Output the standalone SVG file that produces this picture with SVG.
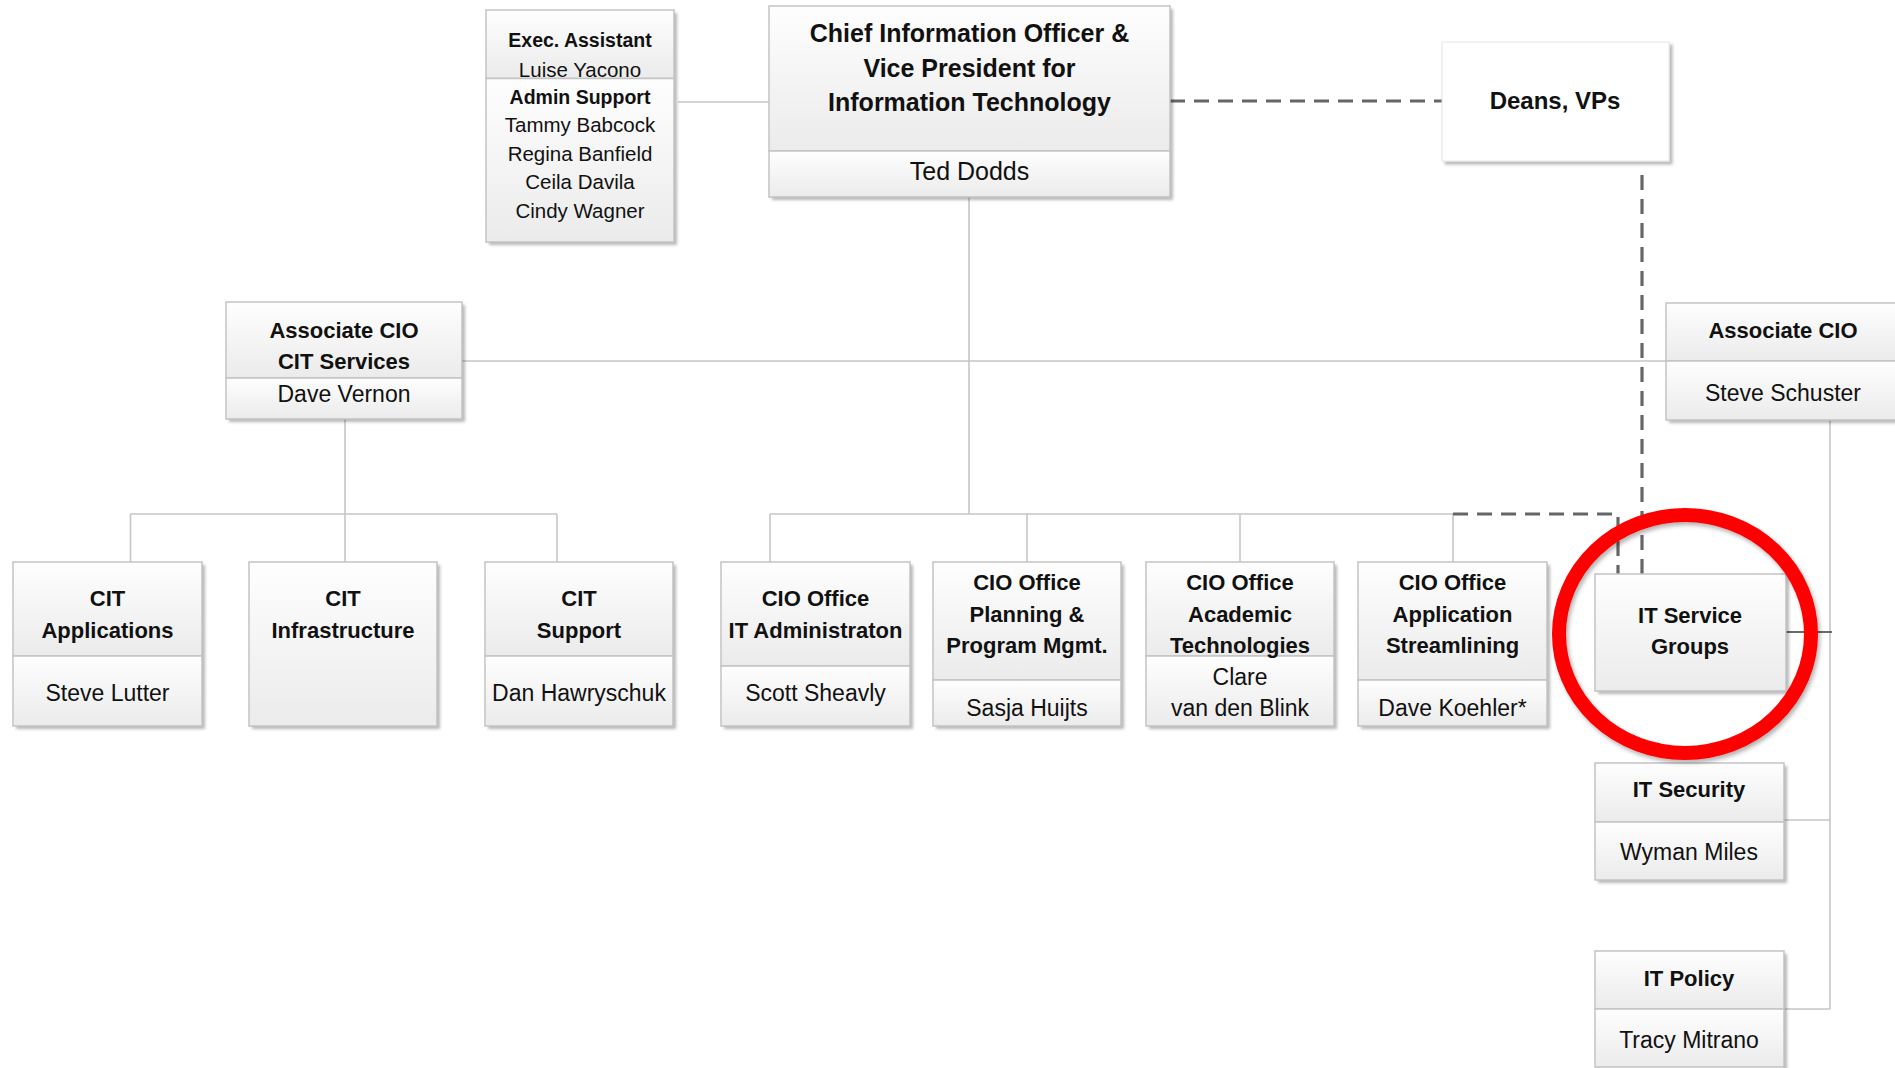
<svg xmlns="http://www.w3.org/2000/svg" width="1895" height="1068" viewBox="0 0 1895 1068">
<defs>
<linearGradient id="g" x1="0" y1="0" x2="0" y2="1">
<stop offset="0" stop-color="#fefefe"/>
<stop offset="1" stop-color="#ebebeb"/>
</linearGradient>
<filter id="sh" x="-10%" y="-10%" width="125%" height="130%">
<feDropShadow dx="3" dy="3" stdDeviation="1.6" flood-color="#000" flood-opacity="0.28"/>
</filter>
<filter id="rsh" x="-10%" y="-10%" width="125%" height="125%">
<feDropShadow dx="2" dy="3" stdDeviation="2" flood-color="#000" flood-opacity="0.3"/>
</filter>
</defs>
<style>
.box{fill:url(#g);stroke:#c3c3c3;stroke-width:1.5}
.bg{fill:#f4f4f4;filter:url(#sh)}
.ln{fill:none;stroke:#c6c6c6;stroke-width:1.6}
.dk{fill:none;stroke:#6a6a6a;stroke-width:2}
.ds{fill:none;stroke:#666666;stroke-width:3.2;stroke-dasharray:15 9}
text{font-family:"Liberation Sans",Arial,sans-serif;fill:#111;text-anchor:middle;dominant-baseline:central}
.b{font-weight:bold;font-size:22px}
.r{font-size:23px}
.eb{font-weight:bold;font-size:19.5px}
.er{font-size:20.5px}
.tb{font-weight:bold;font-size:25px}
.tr{font-size:25px}
</style>
<rect width="1895" height="1068" fill="#ffffff"/>

<g id="connectors">
<path class="ln" d="M678 102H769"/>
<path class="ln" d="M969 197V514"/>
<path class="ln" d="M462 361H1666"/>
<path class="ln" d="M345 419V514"/>
<path class="ln" d="M130.5 514H557M130.5 514V562M345 514V562M557 514V562"/>
<path class="ln" d="M770 514H1453M770 514V562M1027 514V562M1240 514V562M1453 514V562"/>
<path class="ds" d="M1170 101H1442"/>
<path class="ds" d="M1642 175V574"/>
<path class="ds" d="M1453 514H1618V574"/>
<path class="ln" d="M1830 420V1009"/>
<path class="dk" d="M1786 632H1832"/>
<path class="ln" d="M1784 820H1830"/>
<path class="ln" d="M1784 1009H1830"/>
</g>

<g id="exec-assistant">
<rect class="bg" x="486" y="10" width="188" height="232"/>
<rect class="box" x="486" y="10" width="188" height="68.5"/>
<rect class="box" x="486" y="78.5" width="188" height="163.5"/>
<text class="eb" x="580" y="40">Exec. Assistant</text>
<text class="er" x="580" y="69">Luise Yacono</text>
<text class="eb" x="580" y="97">Admin Support</text>
<text class="er" x="580" y="124.5">Tammy Babcock</text>
<text class="er" x="580" y="153">Regina Banfield</text>
<text class="er" x="580" y="181">Ceila Davila</text>
<text class="er" x="580" y="210">Cindy Wagner</text>
</g>

<g id="cio">
<rect class="bg" x="769" y="6" width="401" height="191"/>
<rect class="box" x="769" y="6" width="401" height="145"/>
<rect class="box" x="769" y="151" width="401" height="46"/>
<text class="tb" x="969.5" y="33">Chief Information Officer &amp;</text>
<text class="tb" x="969.5" y="68">Vice President for</text>
<text class="tb" x="969.5" y="102">Information Technology</text>
<text class="tr" x="969.5" y="170.5">Ted Dodds</text>
</g>

<g id="deans-vps">
<rect x="1442" y="42" width="227" height="119" fill="#ffffff" stroke="#e6e6e6" stroke-width="1" filter="url(#sh)"/>
<text class="tb" x="1555" y="100" style="font-size:24px">Deans, VPs</text>
</g>

<g id="assoc-cio-cit">
<rect class="bg" x="226" y="302" width="236" height="117"/>
<rect class="box" x="226" y="302" width="236" height="76"/>
<rect class="box" x="226" y="378" width="236" height="41"/>
<text class="b" x="344" y="330">Associate CIO</text>
<text class="b" x="344" y="361">CIT Services</text>
<text class="r" x="344" y="394">Dave Vernon</text>
</g>

<g id="assoc-cio-right">
<rect class="bg" x="1666" y="303" width="240" height="117"/>
<rect class="box" x="1666" y="303" width="240" height="58"/>
<rect class="box" x="1666" y="361" width="240" height="59"/>
<text class="b" x="1783" y="330">Associate CIO</text>
<text class="r" x="1783" y="393">Steve Schuster</text>
</g>

<g id="cit-applications">
<rect class="bg" x="13" y="562" width="189" height="164"/>
<rect class="box" x="13" y="562" width="189" height="94"/>
<rect class="box" x="13" y="656" width="189" height="70"/>
<text class="b" x="107.5" y="598">CIT</text>
<text class="b" x="107.5" y="630">Applications</text>
<text class="r" x="107.5" y="692.5">Steve Lutter</text>
</g>

<g id="cit-infrastructure">
<rect class="bg" x="249" y="562" width="188" height="164"/>
<rect class="box" x="249" y="562" width="188" height="164"/>
<text class="b" x="343" y="598">CIT</text>
<text class="b" x="343" y="630">Infrastructure</text>
</g>

<g id="cit-support">
<rect class="bg" x="485" y="562" width="188" height="164"/>
<rect class="box" x="485" y="562" width="188" height="94"/>
<rect class="box" x="485" y="656" width="188" height="70"/>
<text class="b" x="579" y="598">CIT</text>
<text class="b" x="579" y="630">Support</text>
<text class="r" x="579" y="692.5">Dan Hawryschuk</text>
</g>

<g id="cio-it-admin">
<rect class="bg" x="721" y="562" width="189" height="164"/>
<rect class="box" x="721" y="562" width="189" height="104"/>
<rect class="box" x="721" y="666" width="189" height="60"/>
<text class="b" x="815.5" y="598">CIO Office</text>
<text class="b" x="815.5" y="630">IT Administraton</text>
<text class="r" x="815.5" y="692.5">Scott Sheavly</text>
</g>

<g id="cio-planning">
<rect class="bg" x="933" y="562" width="188" height="164"/>
<rect class="box" x="933" y="562" width="188" height="118"/>
<rect class="box" x="933" y="680" width="188" height="46"/>
<text class="b" x="1027" y="582.5">CIO Office</text>
<text class="b" x="1027" y="614">Planning &amp;</text>
<text class="b" x="1027" y="645">Program Mgmt.</text>
<text class="r" x="1027" y="708">Sasja Huijts</text>
</g>

<g id="cio-academic">
<rect class="bg" x="1146" y="562" width="188" height="164"/>
<rect class="box" x="1146" y="562" width="188" height="94"/>
<rect class="box" x="1146" y="656" width="188" height="70"/>
<text class="b" x="1240" y="582.5">CIO Office</text>
<text class="b" x="1240" y="614">Academic</text>
<text class="b" x="1240" y="645">Technologies</text>
<text class="r" x="1240" y="677">Clare</text>
<text class="r" x="1240" y="708">van den Blink</text>
</g>

<g id="cio-application">
<rect class="bg" x="1358" y="562" width="189" height="164"/>
<rect class="box" x="1358" y="562" width="189" height="118"/>
<rect class="box" x="1358" y="680" width="189" height="46"/>
<text class="b" x="1452.5" y="582.5">CIO Office</text>
<text class="b" x="1452.5" y="614">Application</text>
<text class="b" x="1452.5" y="645">Streamlining</text>
<text class="r" x="1452.5" y="708">Dave Koehler*</text>
</g>

<g id="it-service-groups">
<rect class="bg" x="1595" y="574" width="191" height="117"/>
<rect class="box" x="1595" y="574" width="191" height="117"/>
<text class="b" x="1690" y="615">IT Service</text>
<text class="b" x="1690" y="646.5">Groups</text>
</g>

<g id="it-security">
<rect class="bg" x="1595" y="763" width="189" height="117"/>
<rect class="box" x="1595" y="763" width="189" height="59"/>
<rect class="box" x="1595" y="822" width="189" height="58"/>
<text class="b" x="1689" y="789">IT Security</text>
<text class="r" x="1689" y="852">Wyman Miles</text>
</g>

<g id="it-policy">
<rect class="bg" x="1595" y="951" width="189" height="117"/>
<rect class="box" x="1595" y="951" width="189" height="58"/>
<rect class="box" x="1595" y="1009" width="189" height="58"/>
<text class="b" x="1689" y="978">IT Policy</text>
<text class="r" x="1689" y="1040">Tracy Mitrano</text>
</g>

<g id="highlight">
<ellipse cx="1685" cy="634" rx="126" ry="119" fill="none" stroke="#ff0000" stroke-width="14" filter="url(#rsh)"/>
</g>
</svg>
